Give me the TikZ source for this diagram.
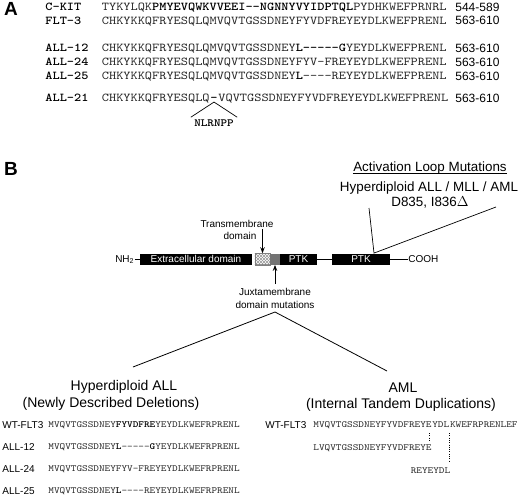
\documentclass[tikz,border=0pt]{standalone}
\usepackage{fontspec}
\setmainfont{Liberation Sans}
\newfontfamily\mono{lmmono10-regular.otf}[BoldFont=lmmonolt10-bold.otf, FakeStretch=1.14]
\usetikzlibrary{patterns,calc,arrows.meta}
\newcommand\bseq[1]{{\color{black}\bfseries #1}}
\tikzset{
 seqA/.style={font=\mono\fontsize{12}{14}\selectfont, text=black!85, inner sep=0pt, anchor=west, text height=7.3pt, text depth=0pt},
 labA/.style={font=\mono\bfseries\fontsize{12}{14}\selectfont, text=black, inner sep=0pt, anchor=west, text height=7.3pt, text depth=0pt},
 numA/.style={font=\fontsize{12}{14}\selectfont, inner sep=0pt, anchor=west, text height=8.6pt, text depth=0pt},
 seqB/.style={font=\mono\fontsize{9.4}{11}\selectfont, text=black!85, inner sep=0pt, anchor=west, text height=5.7pt, text depth=0pt},
 labB/.style={font=\fontsize{10}{12}\selectfont, inner sep=0pt, anchor=west, text height=7.2pt, text depth=0pt},
 ttl/.style={font=\fontsize{14}{16}\selectfont, inner sep=0pt, text height=10pt, text depth=0pt},
 ttlS/.style={font=\fontsize{13.4}{16}\selectfont, inner sep=0pt, text height=9.6pt, text depth=0pt},
 small/.style={font=\fontsize{10}{12}\selectfont, inner sep=0pt, text height=7.2pt, text depth=0pt},
 dom/.style={fill=black, text=white, font=\fontsize{10}{12}\selectfont, minimum height=11pt, inner sep=0pt},
 panel/.style={font=\bfseries\fontsize{19}{20}\selectfont, inner sep=0pt},
 dots/.style={line width=1.1pt, dash pattern=on 1pt off 1.3pt},
 arr/.style={-{Stealth[length=6pt,width=4.5pt]}, line width=0.9pt},
}
\begin{document}
\begin{tikzpicture}[x=1pt, y=-1pt, line width=0.8pt]
\useasboundingbox[fill=white] (0,0) rectangle (520,499);
% ---------- Panel A ----------
\node[panel] (pA) at (11,9) {A};
\node[labA] (lk) at (45,7) {C-KIT};
\node[seqA] (sk) at (101.5,7) {TYKYLQK\bseq{PMYEVQWKVVEEI-{}-NGNNYVYIDPTQL}PYDHKWEFPRNRL};
\node[numA] (nk) at (455,7) {544-589};
\node[labA] (lf) at (45,20.5) {FLT-3};
\node[seqA] (sf) at (101.5,20.5) {CHKYKKQFRYESQLQMVQVTGSSDNEYFYVDFREYEYDLKWEFPRENL};
\node[numA] (nf) at (455,20.5) {563-610};
\node[labA] (l12) at (45,48) {ALL-12};
\node[seqA] (s12) at (101.5,48) {CHKYKKQFRYESQLQMVQVTGSSDNEY\bseq{L-{}-{}-{}-{}-G}YEYDLKWEFPRENL};
\node[numA] (n12) at (455,48) {563-610};
\node[labA] (l24) at (45,62) {ALL-24};
\node[seqA] (s24) at (101.5,62) {CHKYKKQFRYESQLQMVQVTGSSDNEYFYV-FREYEYDLKWEFPRENL};
\node[numA] (n24) at (455,62) {563-610};
\node[labA] (l25) at (45,76) {ALL-25};
\node[seqA] (s25) at (101.5,76) {CHKYKKQFRYESQLQMVQVTGSSDNEY\bseq{L}-{}-{}-{}-REYEYDLKWEFPRENL};
\node[numA] (n25) at (455,76) {563-610};
\node[labA] (l21) at (45,98) {ALL-21};
\node[seqA] (s21a) at (101.5,98) {CHKYKKQFRYESQLQ};
\node[seqA, text=black, font=\mono\bfseries\fontsize{12}{14}\selectfont] (s21d) at (s21a.east) {-};
\node[seqA] (s21b) at (s21d.east) {VQVTGSSDNEYFYVDFREYEYDLKWEFPRENL};
\node[numA] (n21) at (455,98) {563-610};
\node[font=\mono\bfseries\fontsize{11}{13}\selectfont, inner sep=0pt, text height=6.8pt, text depth=0pt] (nlr) at (s21d.center |- 0,123) {NLRNPP};
\draw[line width=0.7pt] ([xshift=-3pt,yshift=2pt]nlr.north west) -- (s21d.south) -- ([xshift=3pt,yshift=2pt]nlr.north east);
% ---------- Panel B ----------
\node[panel] (pB) at (11,169) {B};
\node[ttlS, anchor=base] (act) at (430,171) {Activation Loop Mutations};
\draw[line width=0.7pt] ([yshift=-2pt]act.base west) -- ([yshift=-2pt]act.base east);
\node[ttlS] (hma) at (429,187) {Hyperdiploid ALL / MLL / AML};
\node[ttlS] (dmut) at (430,202) {D835, I836$\Delta$};
% domain bar
\node[dom, minimum width=112pt] (ext) at (196,259) {Extracellular domain};
\node[draw=gray, line width=0.5pt, minimum width=15pt, minimum height=11pt, inner sep=0pt, fill=white] (tm) at (262.5,259) {};
\fill[pattern=north east lines, pattern color=gray!80] (tm.south west) rectangle (tm.north east);
\fill[pattern=north west lines, pattern color=gray!80] (tm.south west) rectangle (tm.north east);
\draw[gray, line width=0.5pt] (tm.south west) rectangle (tm.north east);
\node[fill=black!55, minimum width=10pt, minimum height=11pt, inner sep=0pt] (jm) at (275,259) {};
\node[dom, minimum width=37pt] (ptk1) at (298.5,259) {PTK};
\node[dom, minimum width=58pt] (ptk2) at (361,259) {PTK};
\node[font=\fontsize{10}{12}\selectfont, inner sep=0pt, anchor=east] (nh) at (134.5,259.5) {NH\textsubscript{2}};
\node[small, anchor=west] (co) at (408,259) {COOH};
\draw (ext.west -| nh.east) -- (ext.west);
\draw (ptk1.east) -- (ptk2.west);
\draw (ptk2.east) -- (co.west);
% activation loop V
\coordinate (al) at (369,208);
\coordinate (ar) at (496,207);
\draw[line width=0.7pt] (al) -- ([xshift=13pt]ptk2.north) -- (ar);
% transmembrane label & arrow
\node[small] (tml1) at (237,224) {Transmembrane};
\node[small] (tml2) at (240,236) {domain};
\coordinate (tmtop) at (262.5,229);
\draw[arr] (tmtop) -- (tm.north);
% juxtamembrane label & arrow
\coordinate (jmbot) at (275,284);
\draw[arr] (jmbot) -- (jm.south);
\node[small] (jml1) at (275,292) {Juxtamembrane};
\node[small] (jml2) at (275,305) {domain mutations};
% big V
\coordinate (jv) at (275,312);
\coordinate (bl) at (133,367);
\coordinate (br) at (387,371);
\draw (bl) -- (jv) -- (br);
% titles
\node[ttl] (t1) at (124,385) {Hyperdiploid ALL};
\node[ttl] (t2) at (111,402) {(Newly Described Deletions)};
\node[ttl] (t3) at (403,387) {AML};
\node[ttl] (t4) at (401,403) {(Internal Tandem Duplications)};
% left sequences
\node[labB] (bl1) at (2,425) {WT-FLT3};
\node[seqB] (bs1) at (48,425) {MVQVTGSSDNEY\bseq{FYVDFRE}YEYDLKWEFRPRENL};
\node[labB] (bl2) at (2,447) {ALL-12};
\node[seqB] (bs2) at (48,447) {MVQVTGSSDNEY\bseq{L}-{}-{}-{}-{}-\bseq{G}YEYDLKWEFRPRENL};
\node[labB] (bl3) at (2,469) {ALL-24};
\node[seqB] (bs3) at (48,469) {MVQVTGSSDNEYFYV-FREYEYDLKWEFRPRENL};
\node[labB] (bl4) at (2,491) {ALL-25};
\node[seqB] (bs4) at (48,491) {MVQVTGSSDNEY\bseq{L}-{}-{}-{}-REYEYDLKWEFRPRENL};
% right sequences
\node[labB] (wl) at (265,425) {WT-FLT3};
\node[seqB] (w1) at (313,425) {MVQVTGSSDNEYFYVDFREYE};
\node[seqB] (w2) at (w1.east) {YDL};
\node[seqB] (w3) at (w2.east) {KWEFRPRENLEF};
\draw[dots] ($(w1.east)+(-2.8,8)$) -- ($(w1.east)+(-2.8,15)$);
\draw[dots] ($(w2.east)+(0,8)$) -- ($(w2.east)+(0,37)$);
\node[seqB, anchor=east] (d1) at ($(w1.east)+(0,23)$) {LVQVTGSSDNEYFYVDFREYE};
\node[seqB, anchor=east] (d2) at ($(w2.east)+(1,46)$) {REYEYDL};
\end{tikzpicture}
\end{document}
